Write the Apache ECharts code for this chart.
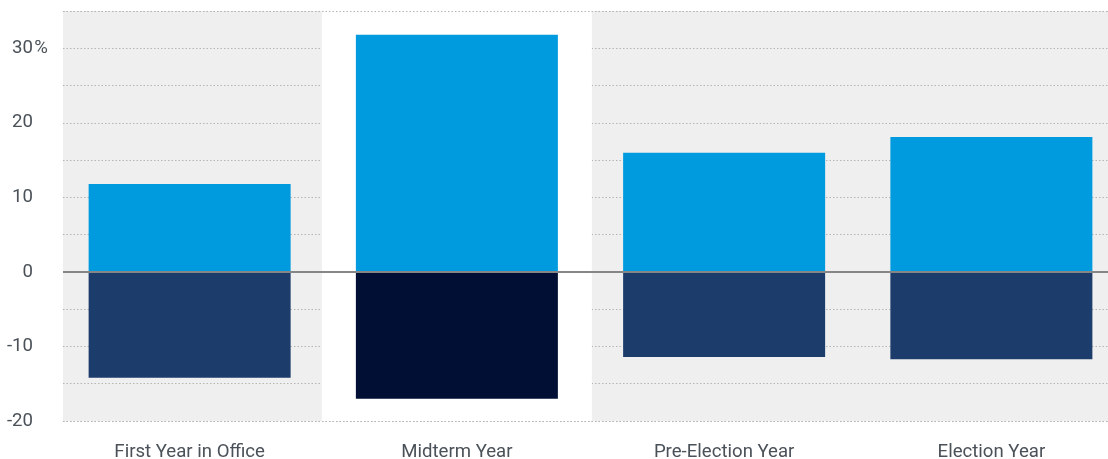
<!DOCTYPE html>
<html>
<head>
<meta charset="utf-8">
<script src="https://cdn.jsdelivr.net/npm/echarts@6/dist/echarts.min.js"></script>
<style>
html,body{margin:0;padding:0;background:#fff;}
#chart{width:1108px;height:459px;}
</style>
</head>
<body>
<div id="chart"></div>
<script>
const categories = ['First Year in Office', 'Midterm Year', 'Pre-Election Year', 'Election Year'];
const gains = [11.8, 31.8, 16.0, 18.1];
const declines = [-14.2, -17.0, -11.4, -11.7];
const highlightIndex = 1;
const yMin = -20, yMax = 35, yStep = 5;
const yLabeled = [30, 20, 10, 0, -10, -20];

const FONT = 'Roboto';
const TXT = '#4a5158';
const GRIDC = '#b5b5b5';

const chart = echarts.init(document.getElementById('chart'), null, {renderer: 'canvas'});

const bgPos = categories.map((c, i) => i === highlightIndex ? yMax : null);
const bgNeg = categories.map((c, i) => i === highlightIndex ? yMin : null);
const negData = declines.map((v, i) => i === highlightIndex ? {value: v, itemStyle: {color: '#000f33'}} : v);

const dotted = {color: GRIDC, width: 1, type: [1.5, 2]};

chart.setOption({
  animation: false,
  grid: [
    {left: 56, width: 1069, top: 11, bottom: 38, outerBoundsMode: 'none', containLabel: false},
    {left: 63, right: 0, top: 11, bottom: 38, outerBoundsMode: 'none', containLabel: false}
  ],
  xAxis: [
    {
      type: 'category', gridIndex: 0, data: categories,
      axisLine: {show: false}, axisTick: {show: false},
      axisLabel: {color: TXT, fontFamily: FONT, fontSize: 18.6, margin: 22}
    },
    {type: 'value', gridIndex: 1, min: 0, max: 1, show: false},
    {type: 'category', gridIndex: 0, data: categories, show: false}
  ],
  yAxis: [
    {
      type: 'value', gridIndex: 0, min: yMin, max: yMax, interval: yStep,
      axisLine: {show: false}, axisTick: {show: false}, splitLine: {show: false},
      axisLabel: {
        margin: 7, fontFamily: FONT, fontSize: 18.6, color: TXT,
        formatter: function (v) {
          if (yLabeled.indexOf(v) < 0) return '';
          return v === 30 ? '{n|' + v + '}{p|%}' : '{n|' + v + '}{p| }';
        },
        rich: {
          n: {fontFamily: FONT, fontSize: 18.6, color: TXT},
          p: {fontFamily: FONT, fontSize: 18.6, color: TXT, width: 16, align: 'left'}
        }
      }
    },
    {
      type: 'value', gridIndex: 1, min: yMin, max: yMax, interval: yStep,
      axisLine: {show: false}, axisTick: {show: false}, axisLabel: {show: false},
      splitLine: {show: true, lineStyle: dotted},
      splitArea: {show: true, areaStyle: {color: ['#efefef']}}
    }
  ],
  series: [
    {
      type: 'bar', xAxisIndex: 2, yAxisIndex: 0, stack: 'bg', barWidth: 270,
      data: bgPos, itemStyle: {color: '#ffffff'}, silent: true
    },
    {
      type: 'bar', xAxisIndex: 2, yAxisIndex: 0, stack: 'bg', barWidth: 270,
      data: bgNeg, itemStyle: {color: '#ffffff'}, silent: true
    },
    {
      name: 'Gain', type: 'bar', xAxisIndex: 0, yAxisIndex: 0, stack: 'v', barWidth: 202,
      data: gains, itemStyle: {color: '#009ade'}
    },
    {
      name: 'Decline', type: 'bar', xAxisIndex: 0, yAxisIndex: 0, stack: 'v', barWidth: 202,
      data: negData, itemStyle: {color: '#1c3c6c'}
    },
    {
      type: 'line', xAxisIndex: 1, yAxisIndex: 1, data: [], silent: true,
      markLine: {
        silent: true, symbol: 'none', label: {show: false}, animation: false,
        data: [
          {yAxis: yMax, lineStyle: dotted},
          {yAxis: yMin, lineStyle: dotted},
          {yAxis: 0, lineStyle: {color: '#868686', width: 2, type: 'solid'}}
        ]
      }
    }
  ]
});
</script>
</body>
</html>
